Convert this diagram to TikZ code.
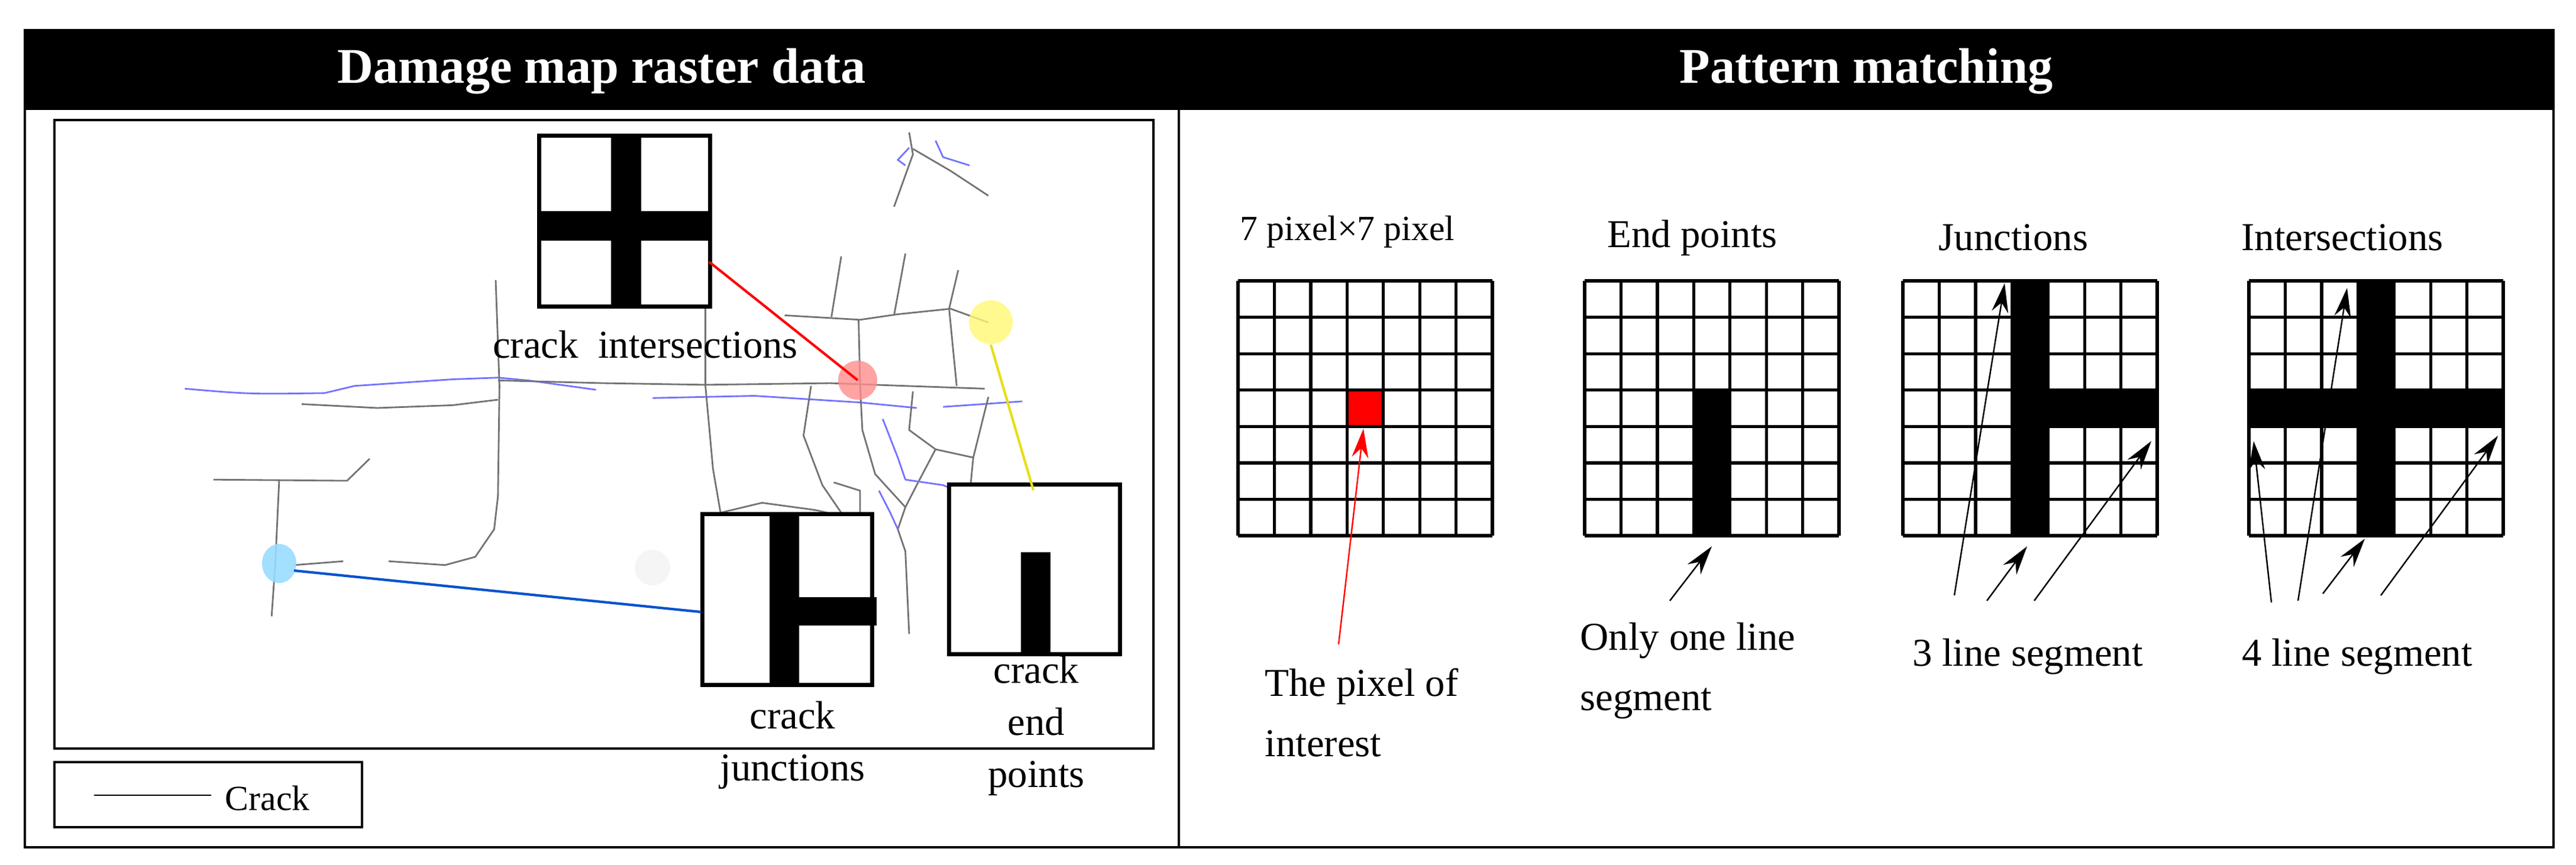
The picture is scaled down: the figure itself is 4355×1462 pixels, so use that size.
\documentclass[tikz,border=0pt]{standalone}
\usepackage{fontspec}
\setmainfont{Liberation Serif}
\usetikzlibrary{arrows.meta}
\begin{document}
\begin{tikzpicture}[x=0.01cm,y=-0.01cm,
  frame/.style={draw=black,line width=1.3pt},
  lbl/.style={font=\fontsize{19}{23}\selectfont,inner sep=0pt,align=center},
  rlbl/.style={font=\fontsize{19}{23}\selectfont,inner sep=0pt,align=left},
  crk/.style={draw=gray!90!black,line width=0.8pt},
  bcrk/.style={draw=blue!55,line width=0.8pt},
  arr/.style={-{Stealth[length=14pt,width=8pt]},line width=0.7pt},
  grid7/.style={line width=1.5pt}]
\useasboundingbox (0,0) rectangle (4355,1462);
% outer frame and headers
\fill[black] (42,51) rectangle (4317,186);
\draw[frame] (42,51) rectangle (4317,1433);
\draw[frame] (1993,51) -- (1993,1433);
\node[text=white,font=\bfseries\fontsize{24}{28}\selectfont] (t1) at (1017,121) {Damage map raster data};
\node[text=white,font=\bfseries\fontsize{24}{28}\selectfont] (t2) at (3155,121) {Pattern matching};
% inner map
\draw[frame] (92,203) rectangle (1950,1266);
% legend
\draw[frame] (92,1289) rectangle (612,1399);
\coordinate (lg1) at (159,1345); \coordinate (lg2) at (357,1345);
\draw[line width=0.8pt] (lg1) -- (lg2);
\node[lbl,anchor=west,font=\fontsize{17}{20}\selectfont] (lgt) at (380,1350) {Crack};
% cracks
\begin{scope}[xscale=1.2755,yscale=0.9324]
\draw[bcrk] (245,705) .. controls (330,715) .. (430,713) -- (470,700) -- (600,688) -- (660,685) -- (700,690) -- (790,707);
\draw[crk] (400,733) -- (500,740) -- (600,735) -- (660,725);
\draw[crk] (660,690) -- (800,695) -- (935,698) -- (1100,695) -- (1200,700) -- (1305,705);
\draw[bcrk] (865,722) -- (1000,718) -- (1140,730) -- (1215,740);
\draw[bcrk] (1250,738) -- (1355,728);
\draw[crk] (657,508) -- (662,700) -- (660,900) -- (655,960) -- (630,1010) -- (590,1025) -- (515,1018);
\draw[crk] (920,490) -- (935,560) -- (935,700) -- (945,850) -- (955,930) -- (950,1030) -- (1150,1045);
\draw[crk] (955,930) -- (1010,912) -- (1080,925) -- (1130,940) -- (1140,1050);
\draw[crk] (283,870) -- (460,872) -- (490,832);
\draw[crk] (370,872) -- (365,1020) -- (360,1118);
\draw[crk] (390,1025) -- (455,1018);
\draw[crk] (1115,465) -- (1102,575);
\draw[crk] (1200,460) -- (1185,572);
\draw[crk] (1040,572) -- (1140,580) -- (1190,570) -- (1260,560) -- (1310,585);
\draw[crk] (1270,490) -- (1258,560) -- (1268,700);
\draw[crk] (1138,580) -- (1140,700) -- (1143,780) -- (1160,860) -- (1200,920) -- (1190,960) -- (1200,1000) -- (1205,1150);
\draw[crk] (1075,700) -- (1065,790) -- (1090,880) -- (1135,970) -- (1140,1040);
\draw[crk] (1210,710) -- (1205,780) -- (1240,815) -- (1290,830) -- (1310,720);
\draw[crk] (1290,830) -- (1285,900);
\draw[crk] (1240,815) -- (1215,880) -- (1200,920);
\draw[crk] (1105,875) -- (1140,890) -- (1140,935);
\draw[crk] (1205,240) -- (1210,280) -- (1185,375);
\draw[crk] (1210,270) -- (1260,310) -- (1310,355);
\draw[bcrk] (1205,268) -- (1190,290) -- (1200,300);
\draw[bcrk] (1240,255) -- (1250,285) -- (1285,300);
\draw[bcrk] (1170,760) -- (1190,830) -- (1200,870);
\draw[bcrk] (1165,890) -- (1180,930) -- (1190,960);
\draw[bcrk] (1200,870) -- (1250,880) -- (1285,900);
\end{scope}
% highlight circles
\fill[red!45,opacity=0.8] (1450,643) circle (33) coordinate (rc);
\fill[yellow!55,opacity=0.8] (1675,545) circle (37) coordinate (yc);
\fill[blue!35!cyan!40,opacity=0.9] (472,953) ellipse (29 and 33) coordinate (bc);
\fill[gray!8] (1103,960) circle (30) coordinate (gc);
% icon boxes
\node[frame,fill=white,minimum width=2.86cm,minimum height=2.86cm,inner sep=0pt] (bx1) at (1056,374) {};
\fill (1033,231) rectangle (1084,517);
\fill (913,357) rectangle (1199,407);
\draw[frame] (bx1.north west) rectangle (bx1.south east);
\node[lbl] (l1) at (1091,583) {crack\ \ intersections};
\node[frame,fill=white,minimum width=2.84cm,minimum height=2.86cm,inner sep=0pt] (bx2) at (1331,1014) {};
\fill (1301,871) rectangle (1351,1157);
\fill (1351,1010) rectangle (1482,1058);
\draw[frame] (bx2.north west) rectangle (bx2.south east);
\node[lbl,align=center] (l2) at (1340,1260) {crack\\[2pt]junctions};
\node[frame,fill=white,minimum width=2.86cm,minimum height=2.85cm,inner sep=0pt] (bx3) at (1749,963) {};
\fill (1726,934) rectangle (1776,1106);
\draw[frame] (bx3.north west) rectangle (bx3.south east);
\node[lbl,align=center] (l3) at (1752,1227) {crack\\[2pt]end\\[2pt]points};
% connectors
\coordinate (rl) at (1199,443);
\draw[red,line width=1.2pt] (rl) -- (rc);
\coordinate (yl1) at (1675,583); \coordinate (yl2) at (1747,829);
\draw[yellow!90!black,line width=1.2pt] (yl1) -- (yl2);
\coordinate (bl1) at (497,965); \coordinate (bl2) at (1185,1035);
\draw[blue!60!cyan!80!black,line width=1.2pt] (bl1) -- (bl2);
% grids
\foreach \gx/\nm in {2093/g1,2679/g2,3217/g3,3802/g4}{
  \node[inner sep=0pt,minimum width=4.3cm,minimum height=4.31cm] (\nm) at (\gx+215,690.5) {};
}
% fills
\fill[red] (2277,660) rectangle (2339,722);
\fill (2863,660) rectangle (2925,906);
\fill (3401,475) rectangle (3463,906); \fill (3463,660) rectangle (3647,722);
\fill (3986,475) rectangle (4048,906); \fill (3802,660) rectangle (4232,722);
\foreach \gx in {2093,2679,3217,3802}{
  \foreach \i in {0,...,7}{
    \draw[grid7] (\gx+\i*61.43,475) -- (\gx+\i*61.43,906);
    \draw[grid7] (\gx,475+\i*61.57) -- (\gx+430,475+\i*61.57);
  }
}
% titles
\node[lbl,font=\fontsize{17}{20}\selectfont] (h1) at (2278,392) {7 pixel×7 pixel};
\node[lbl] (h2) at (2861,402) {End points};
\node[lbl] (h3) at (3404,402) {Junctions};
\node[lbl] (h4) at (3960,402) {Intersections};
% labels
\node[rlbl,anchor=north west] (p1) at (2138,1130) {The pixel of\\[6pt]interest};
\node[rlbl,anchor=north west] (p2) at (2671,1052) {Only one line\\[6pt]segment};
\node[lbl] (p3) at (3428,1110) {3 line segment};
\node[lbl] (p4) at (3985,1110) {4 line segment};
% arrows
\coordinate (a0) at (2263,1090); \coordinate (b0) at (2305,725);
\draw[arr,red] (a0) -- (b0);
\coordinate (a1) at (2823,1016); \coordinate (b1) at (2894,924);
\draw[arr] (a1) -- (b1);
\coordinate (a2) at (3304,1007); \coordinate (b2) at (3389,479);
\coordinate (a3) at (3359,1016); \coordinate (b3) at (3427,924);
\coordinate (a4) at (3439,1016); \coordinate (b4) at (3637,746);
\draw[arr] (a2) -- (b2); \draw[arr] (a3) -- (b3); \draw[arr] (a4) -- (b4);
\coordinate (a5) at (3840,1019); \coordinate (b5) at (3810,746);
\coordinate (a6) at (3885,1016); \coordinate (b6) at (3968,487);
\coordinate (a7) at (3927,1004); \coordinate (b7) at (3998,911);
\coordinate (a8) at (4025,1007); \coordinate (b8) at (4223,737);
\draw[arr] (a5) -- (b5); \draw[arr] (a6) -- (b6); \draw[arr] (a7) -- (b7); \draw[arr] (a8) -- (b8);
\end{tikzpicture}
\end{document}
